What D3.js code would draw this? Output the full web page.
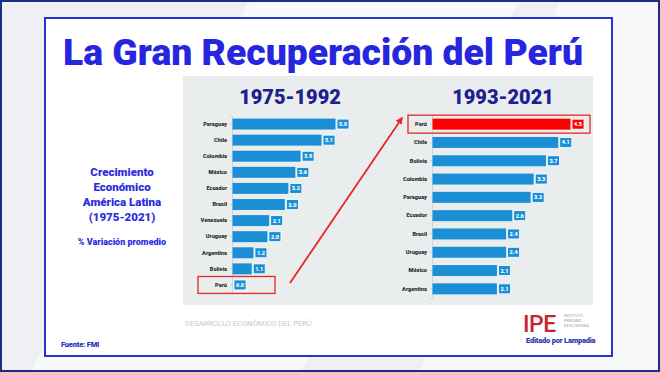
<!DOCTYPE html>
<html><head><meta charset="utf-8">
<script src="https://cdn.jsdelivr.net/npm/d3@7"></script>
<style>body{margin:0;padding:0;background:#fff;}svg{display:block;font-family:Roboto,"Noto Sans",sans-serif;}</style>
</head><body>
<svg id="c" width="660" height="372"></svg>
<script>
const leftCats = ["Paraguay","Chile","Colombia","México","Ecuador","Brasil","Venezuela","Uruguay","Argentina","Bolivia","Perú"];
const leftVals = [5.9,5.1,3.9,3.6,3.2,3.0,2.1,2.0,1.2,1.1,0.0];
const rightCats = ["Perú","Chile","Bolivia","Colombia","Paraguay","Ecuador","Brasil","Uruguay","México","Argentina"];
const rightVals = [4.5,4.1,3.7,3.3,3.2,2.6,2.4,2.4,2.1,2.1];
const periods = ["1975-1992","1993-2021"];
const sideLines = ["Crecimiento","Económico","América Latina","(1975-2021)"];

const svg = d3.select("#c");
// background
svg.append("rect").attr("width",660).attr("height",372).attr("fill","#eef0f3");
svg.append("path").attr("d","M250,0 L520,0 L300,372 L30,372 Z").attr("fill","#f8f9fa");
svg.append("path").attr("d","M560,0 L660,0 L660,372 L420,372 Z").attr("fill","#f7f8f9");
svg.append("rect").attr("x",1).attr("y",1).attr("width",658).attr("height",370).attr("fill","none").attr("stroke","#1d2d86").attr("stroke-width",2);
// panel
svg.append("rect").attr("x",45).attr("y",18).attr("width",567).attr("height",338).attr("fill","#fff").attr("stroke","#2a33d0").attr("stroke-width",2);
// title
svg.append("text").attr("x",323).attr("y",65).attr("text-anchor","middle").attr("font-size",37).attr("font-weight",900)
  .attr("fill","#2626e0").attr("textLength",520).attr("lengthAdjust","spacingAndGlyphs").text("La Gran Recuperación del Perú");
// chart area
svg.append("rect").attr("x",183).attr("y",76).attr("width",410).attr("height",229).attr("fill","#e9eded");

const blue="#1b8fd5", red="#ff0000";
function drawChart(cats, vals, x0, x1, maxV, y0, y1, pad, title, tx, hl){
  const g = svg.append("g");
  const x = d3.scaleLinear().domain([0,maxV]).range([x0,x1]);
  const y = d3.scaleBand().domain(cats).range([y0,y1]).paddingInner(pad).paddingOuter(pad/2);
  g.append("text").attr("x",tx).attr("y",104).attr("text-anchor","middle").attr("font-size",20).attr("font-weight",900)
    .attr("fill","#1c2090").text(title);
  const ax = g.append("g").attr("transform",`translate(${x0},0)`).call(d3.axisLeft(y).tickSize(2).tickPadding(3));
  ax.select(".domain").attr("stroke","#c9cfd2").attr("stroke-width",0.8);
  ax.selectAll(".tick line").attr("stroke","#c9cfd2");
  ax.selectAll(".tick text").attr("font-size",5.6).attr("font-weight",900).attr("fill","#2b2b2b").attr("font-family","Roboto,sans-serif");
  cats.forEach((c,i)=>{
    const col = c===hl ? red : blue;
    g.append("rect").attr("x",x0+0.5).attr("y",y(c)).attr("width",Math.max(0,x(vals[i])-x0)).attr("height",y.bandwidth()).attr("fill",col);
    const bx = x(vals[i])+2;
    g.append("rect").attr("x",bx).attr("y",y(c)+0.5).attr("width",12).attr("height",y.bandwidth()-1).attr("fill",col).attr("stroke","#fff").attr("stroke-width",0.8);
    g.append("text").attr("x",bx+6).attr("y",y(c)+y.bandwidth()/2+2).attr("text-anchor","middle").attr("font-size",5.5).attr("font-weight",900).attr("fill","#fff").text(vals[i].toFixed(1));
  });
  return y;
}
const yl = drawChart(leftCats,leftVals,232,335,5.9,116,293,0.32,periods[0],290,null);
const yr = drawChart(rightCats,rightVals,432,570,4.5,115,298,0.4,periods[1],503,"Perú");

// highlight boxes
svg.append("rect").attr("x",198).attr("y",yl("Perú")-3).attr("width",77).attr("height",yl.bandwidth()+6).attr("fill","none").attr("stroke","#e8262a").attr("stroke-width",1.3);
svg.append("rect").attr("x",408).attr("y",yr("Perú")-3.5).attr("width",182).attr("height",yr.bandwidth()+7).attr("fill","none").attr("stroke","#e8262a").attr("stroke-width",1.3);
// arrow
svg.append("defs").append("marker").attr("id","ah").attr("viewBox","0 0 10 10").attr("refX",8).attr("refY",5)
  .attr("markerWidth",4).attr("markerHeight",4).attr("orient","auto").append("path").attr("d","M0,0 L10,5 L0,10 Z").attr("fill","#e8262a");
svg.append("line").attr("x1",290).attr("y1",283).attr("x2",402).attr("y2",118).attr("stroke","#e8262a").attr("stroke-width",1.8).attr("marker-end","url(#ah)");

// side text
const st = svg.append("text").attr("text-anchor","middle").attr("font-size",11.5).attr("font-weight",900).attr("fill","#2a2ee0");
sideLines.forEach((s,i)=>st.append("tspan").attr("x",122).attr("y",176+i*15).text(s));
svg.append("text").attr("x",122).attr("y",245).attr("text-anchor","middle").attr("font-size",9).attr("font-weight",900).attr("fill","#2a2ee0").text("% Variación promedio");

// footer
svg.append("text").attr("x",185).attr("y",326).attr("font-size",7.5).attr("fill","#c4c8cc").text("DESARROLLO ECONÓMICO DEL PERÚ");
svg.append("text").attr("x",523).attr("y",332).attr("font-size",23).attr("font-weight",500).attr("fill","#c9252c").attr("letter-spacing",-0.5).text("IPE");
const it = svg.append("text").attr("font-size",3.8).attr("fill","#9aa0a6");
["INSTITUTO","PERUANO","DE ECONOMÍA"].forEach((s,i)=>it.append("tspan").attr("x",564).attr("y",317+i*4.8).text(s));
svg.append("text").attr("x",526).attr("y",343).attr("font-size",7.5).attr("font-weight",900).attr("fill","#2a33b0").attr("letter-spacing",-0.2).text("Editado por Lampadia");
svg.append("text").attr("x",61).attr("y",347).attr("font-size",7.5).attr("font-weight",900).attr("fill","#2a33c0").attr("letter-spacing",-0.2).text("Fuente: FMI");
</script>
</body></html>
